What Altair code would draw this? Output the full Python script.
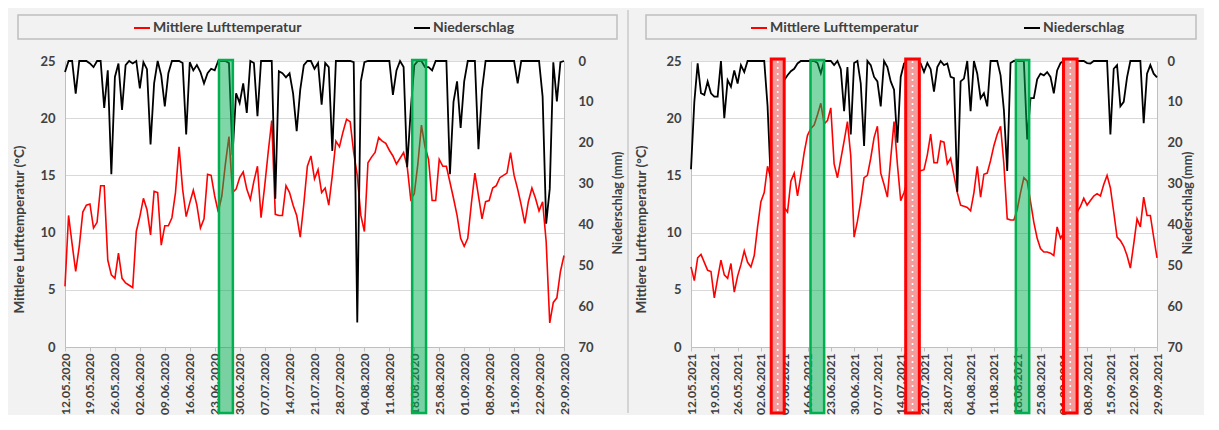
import altair as alt
import pandas as pd

# ---------------- data ----------------
SERIES = ["Mittlere Lufttemperatur", "Niederschlag"]
TITLE_LEFT = "Mittlere Lufttemperatur (°C)"
TITLE_RIGHT = "Niederschlag (mm)"

X_LABELS_2020 = ["12.05.2020", "19.05.2020", "26.05.2020", "02.06.2020", "09.06.2020",
                 "16.06.2020", "23.06.2020", "30.06.2020", "07.07.2020", "14.07.2020",
                 "21.07.2020", "28.07.2020", "04.08.2020", "11.08.2020", "18.08.2020",
                 "25.08.2020", "01.09.2020", "08.09.2020", "15.09.2020", "22.09.2020",
                 "29.09.2020"]
X_LABELS_2021 = ["12.05.2021", "19.05.2021", "26.05.2021", "02.06.2021", "09.06.2021",
                 "16.06.2021", "23.06.2021", "30.06.2021", "07.07.2021", "14.07.2021",
                 "21.07.2021", "28.07.2021", "04.08.2021", "11.08.2021", "18.08.2021",
                 "25.08.2021", "01.09.2021", "08.09.2021", "15.09.2021", "22.09.2021",
                 "29.09.2021"]

# daily values 12.05. - 29.09. (141 days)
TEMP_2020 = [5.3, 11.5, 9.0, 6.6, 8.8, 11.8, 12.4, 12.5, 10.4, 10.9,
             14.1, 14.1, 7.6, 6.3, 6.0, 8.2, 6.0, 5.6, 5.4, 5.2,
             10.1, 11.4, 13.0, 12.0, 9.8, 13.6, 13.5, 8.9, 10.6, 10.6,
             11.3, 13.5, 17.5, 13.8, 11.4, 12.6, 13.7, 12.4, 10.4, 11.2,
             15.1, 15.0, 13.2, 11.8, 13.2, 16.0, 18.4, 13.5, 13.8, 14.8,
             15.3, 13.8, 12.9, 14.5, 15.8, 11.3, 14.0, 17.0, 19.8, 11.6,
             11.5, 11.5, 14.1, 13.5, 12.4, 11.5, 9.6, 12.5, 15.8, 16.7,
             14.7, 15.5, 13.5, 13.9, 12.4, 15.0, 18.0, 17.5, 18.8, 19.9,
             19.7, 17.0, 15.0, 11.5, 10.1, 16.1, 16.6, 17.0, 18.3, 18.0,
             17.8, 17.2, 16.7, 16.0, 16.5, 17.0, 15.8, 12.9, 13.4, 16.0,
             19.4, 17.5, 16.4, 12.8, 12.8, 16.4, 15.8, 15.8, 14.4, 13.0,
             11.5, 9.5, 8.8, 9.5, 12.5, 15.2, 13.2, 11.2, 12.7, 12.8,
             13.9, 14.1, 14.8, 15.0, 15.2, 17.0, 15.0, 13.8, 12.4, 10.8,
             12.7, 13.9, 13.0, 11.9, 12.7, 9.2, 2.1, 3.9, 4.3, 6.6,
             8.0]
RAIN_2020 = [2.7, 0, 0, 8.0, 0, 0, 0, 0.6, 1.5, 0,
             0, 11.5, 2.3, 27.7, 3.9, 0.6, 12.0, 1.0, 0, 0.6,
             0, 6.7, 0.3, 2.0, 20.4, 5.5, 0, 3.5, 11.1, 3.0,
             0, 0, 0, 0.5, 18.0, 0.3, 2.3, 1.0, 2.7, 5.5,
             3.0, 1.9, 2.3, 0, 0, 0, 0.5, 23.0, 7.9, 10.3,
             5.5, 12.7, 0, 0.5, 13.5, 0, 0, 0, 0, 33.7,
             2.5, 3.0, 4.0, 3.0, 8.0, 17.2, 7.0, 1.0, 0, 0,
             1.9, 0.5, 10.7, 0.5, 1.5, 22.0, 0, 0, 0, 0,
             0, 0.3, 64.0, 5.0, 0.3, 0, 0, 0, 0, 0,
             0, 0, 8.3, 2.3, 0, 1.5, 26.0, 12.0, 1.0, 0,
             0, 1.5, 1.5, 2.3, 0, 0, 0, 0, 27.7, 10.0,
             5.0, 16.4, 5.0, 0, 0, 0, 21.6, 7.1, 0, 0,
             0, 0, 0, 0, 0, 0, 0, 5.5, 0, 0,
             0, 0, 0, 0, 8.7, 39.8, 31.3, 0.3, 9.9, 0.3,
             0]
TEMP_2021 = [7.0, 5.8, 7.8, 8.1, 7.4, 6.7, 6.6, 4.3, 6.0, 7.6,
             6.3, 6.0, 7.3, 4.8, 6.2, 7.2, 8.4, 7.4, 7.0, 8.0,
             10.5, 12.7, 13.5, 15.8, 14.7, 13.5, 12.5, 11.8, 12.2, 11.8,
             14.5, 15.2, 13.2, 15.0, 17.0, 18.5, 19.1, 19.4, 20.3, 21.3,
             19.5, 19.8, 20.9, 16.0, 14.8, 16.4, 18.0, 19.7, 16.7, 9.6,
             11.0, 12.7, 14.8, 15.0, 16.5, 18.3, 19.3, 15.2, 14.2, 13.1,
             16.5, 19.7, 16.0, 12.8, 13.5, 14.5, 15.0, 15.3, 15.4, 15.4,
             15.5, 16.8, 18.6, 16.1, 16.1, 18.0, 17.9, 16.0, 16.5, 15.0,
             13.5, 12.4, 12.3, 12.2, 11.9, 13.5, 15.8, 13.1, 15.1, 15.2,
             16.3, 17.6, 18.6, 19.3, 16.0, 11.2, 11.1, 11.1, 12.0, 13.5,
             14.8, 14.5, 12.7, 10.9, 9.5, 8.6, 8.3, 8.3, 8.2, 8.0,
             10.5, 9.5, 10.0, 10.8, 11.2, 11.5, 11.8, 12.3, 13.0, 12.4,
             12.8, 13.2, 13.4, 13.2, 14.2, 15.0, 13.9, 11.8, 9.6, 9.3,
             8.8, 8.0, 6.9, 9.0, 11.2, 10.5, 13.1, 11.5, 11.5, 9.6,
             7.8]
RAIN_2021 = [26.5, 10.0, 0.6, 7.9, 8.3, 5.0, 7.9, 8.7, 8.7, 0,
             14.0, 4.7, 6.3, 2.3, 5.5, 1.0, 2.7, 0, 0, 0,
             0, 0, 0, 11.0, 30.0, 6.0, 5.0, 5.5, 4.7, 3.5,
             2.5, 1.9, 0.6, 0, 0, 0, 0, 0, 0.5, 3.0,
             0, 0, 0, 1.0, 0, 2.0, 12.3, 1.5, 18.0, 0.5,
             0, 5.5, 20.8, 0, 1.0, 3.9, 5.0, 11.1, 0, 1.5,
             5.0, 7.0, 20.0, 3.9, 0.6, 0, 0, 0, 0, 0.6,
             2.7, 0.5, 2.0, 7.5, 1.5, 0, 1.0, 0.6, 3.9, 4.2,
             32.0, 5.0, 4.3, 0, 12.3, 0, 3.1, 9.1, 7.9, 11.1,
             0, 0, 0, 3.5, 12.0, 26.9, 0.5, 0, 0, 0,
             0, 19.2, 9.1, 9.1, 4.5, 3.1, 3.5, 2.7, 3.9, 7.9,
             2.3, 0.5, 0, 0, 0, 0, 0, 0, 0, 0.5,
             0.6, 0, 0, 0, 0, 0, 18.0, 1.9, 1.0, 11.1,
             10.0, 4.0, 0, 0, 0, 0, 15.2, 3.1, 1.0, 3.1,
             4.0]

# highlighted periods (day index from 12.05.)
GREEN_2020_START = [43.2, 97.4]
GREEN_2020_END = [47.1, 101.3]
GREEN_2021_START = [35.9, 97.6]
GREEN_2021_END = [40.0, 101.6]
RED_2021_START = [24.1, 64.5, 111.9]
RED_2021_END = [28.0, 68.6, 116.0]

# ---------------- style ----------------
FONT = "Lato"
TXT = "#404040"
AXC = "#bfbfbf"
GRID = "#d9d9d9"
BG = "#f2f2f2"
RED = "#ff0000"
GREEN = "#00b050"
H = 286
BOTTOM = H + 66


def panel(labels, temp, rain, g_s, g_e, r_s, r_e, width, leg_x, col_pad,
          lt_x, rt_x, r_pad, box_x0, box_x1, bg_x0, bg_x1, sep_x=None):
    days = list(range(len(temp)))
    tdf = pd.DataFrame({"day": days, "value": temp, "series": SERIES[0]})
    rdf = pd.DataFrame({"day": days, "value": rain, "series": SERIES[1]})
    one = pd.DataFrame({"k": [0]})
    xs = alt.Scale(domain=[0, 140], nice=False, zero=False)
    expr = "[" + ",".join("'%s'" % s for s in labels) + "][round(datum.value / 7)]"
    xaxis = alt.Axis(values=list(range(0, 141, 7)), labelExpr=expr, labelAngle=270,
                     labelFlush=False, labelOverlap=False, title=None, grid=False,
                     domainColor=AXC, tickColor=AXC, tickSize=4, labelPadding=2,
                     labelFontSize=12)
    legend = alt.Legend(title=None, orient="none", legendX=leg_x, legendY=-42,
                        direction="horizontal", columns=2, columnPadding=col_pad,
                        symbolType="stroke", symbolSize=256, symbolStrokeWidth=2,
                        labelFont=FONT, labelFontSize=14, labelFontWeight="bold",
                        labelColor=TXT, labelOffset=2, labelLimit=300, padding=0)
    color = alt.Color("series:N", scale=alt.Scale(domain=SERIES, range=[RED, "#000000"]),
                      legend=legend)

    layers = []
    layers.append(alt.Chart(one).mark_rect(fill="white", fillOpacity=0, strokeOpacity=0).encode(
        x=alt.value(bg_x0), x2=alt.value(bg_x1), y=alt.value(-51), y2=alt.value(BOTTOM)))
    layers.append(alt.Chart(one).mark_rect(fill=BG, stroke=AXC, strokeWidth=1.5).encode(
        x=alt.value(box_x0), x2=alt.value(box_x1), y=alt.value(-46), y2=alt.value(-22)))
    if sep_x is not None:
        layers.append(alt.Chart(one).mark_rule(color="#d4d4d4", strokeWidth=2).encode(
            x=alt.value(sep_x), y=alt.value(-51), y2=alt.value(BOTTOM)))
    # right-hand axis title
    layers.append(alt.Chart(one).mark_text(
        text=TITLE_RIGHT, angle=270, font=FONT, fontSize=12.5, fontWeight="bold",
        color=TXT, align="center", baseline="middle").encode(
        x=alt.value(width + rt_x), y=alt.value(142)))

    layers.append(alt.Chart(tdf).mark_line(strokeWidth=1.6).encode(
        x=alt.X("day:Q", scale=xs, axis=xaxis),
        y=alt.Y("value:Q", scale=alt.Scale(domain=[0, 25], nice=False),
                axis=alt.Axis(values=[0, 5, 10, 15, 20, 25], grid=True, gridColor=GRID,
                              domainColor=AXC, ticks=False, labelPadding=10,
                              title=TITLE_LEFT, titleX=lt_x, titleY=168, titleAngle=270,
                              titleFontSize=13.5,
                              titleAlign="center", titleBaseline="middle")),
        color=color))
    layers.append(alt.Chart(rdf).mark_line(strokeWidth=1.8).encode(
        x=alt.X("day:Q", scale=xs, axis=xaxis),
        y=alt.Y("value:Q", scale=alt.Scale(domain=[0, 70], reverse=True, nice=False),
                axis=alt.Axis(orient="right", values=list(range(0, 71, 10)), grid=False,
                              domainColor=AXC, ticks=False, labelPadding=r_pad, title=None)),
        color=color))

    gdf = pd.DataFrame({"start": g_s, "end": g_e})
    layers.append(alt.Chart(gdf).mark_rect(fill=GREEN, fillOpacity=0.5, stroke=GREEN,
                                           strokeWidth=2.5).encode(
        x=alt.X("start:Q", scale=xs, axis=xaxis), x2="end:Q",
        y=alt.value(-1), y2=alt.value(BOTTOM)))
    if r_s:
        rbd = pd.DataFrame({"start": r_s, "end": r_e})
        layers.append(alt.Chart(rbd).mark_rect(fill="#f39a9a", stroke=RED, strokeWidth=3).encode(
            x=alt.X("start:Q", scale=xs, axis=xaxis), x2="end:Q",
            y=alt.value(-2), y2=alt.value(BOTTOM)))
        layers.append(alt.Chart(rbd).transform_calculate(
            mid="(datum.start + datum.end) / 2").mark_rule(
            color="white", strokeWidth=1.6, strokeDash=[2, 4]).encode(
            x=alt.X("mid:Q", scale=xs, axis=xaxis), y=alt.value(0), y2=alt.value(BOTTOM)))

    return alt.layer(*layers).resolve_scale(y="independent").properties(width=width, height=H)


p1 = panel(X_LABELS_2020, TEMP_2020, RAIN_2020, GREEN_2020_START, GREEN_2020_END, [], [],
           width=499, leg_x=68, col_pad=108, lt_x=-46, rt_x=54, r_pad=14,
           box_x0=-47, box_x1=552, bg_x0=-56, bg_x1=561)
p2 = panel(X_LABELS_2021, TEMP_2021, RAIN_2021, GREEN_2021_START, GREEN_2021_END,
           RED_2021_START, RED_2021_END,
           width=466, leg_x=59, col_pad=101, lt_x=-50, rt_x=31, r_pad=10,
           box_x0=-45, box_x1=505, bg_x0=-62, bg_x1=512, sep_x=-63)

chart = alt.hconcat(p1, p2, spacing=127, bounds="flush").resolve_scale(
    color="independent").resolve_legend(color="independent").properties(
    padding={"left": 0, "top": 0, "right": 0, "bottom": 0}
).configure(background=BG).configure_view(stroke="transparent", fill="white").configure_axis(
    labelFont=FONT, titleFont=FONT, labelFontSize=13, titleFontSize=12,
    labelFontWeight="bold", titleFontWeight="bold", labelColor=TXT, titleColor=TXT)

chart.save("out.html", embed_options={"renderer": "svg", "actions": False})
